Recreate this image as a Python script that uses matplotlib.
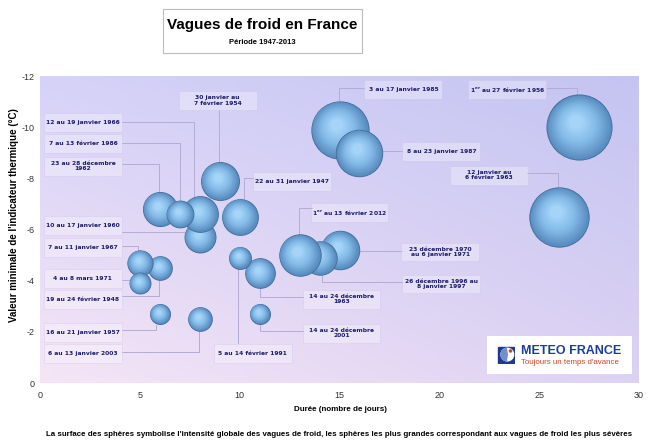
import numpy as np
import matplotlib
matplotlib.use("Agg")
import matplotlib.pyplot as plt
from matplotlib.patches import Rectangle, Circle, Wedge
from matplotlib.transforms import offset_copy
from matplotlib.colors import to_rgb

plt.rcParams["axes.unicode_minus"] = False

# Vagues de froid en France, 1947-2013
periodes = ["22 au 31 janvier 1947", "19 au 24 février 1948", "30 janvier au\n7 février 1954",
            "1$^{\\mathbf{er}}$ au 27 février 1956", "16 au 21 janvier 1957", "10 au 17 janvier 1960",
            "23 au 28 décembre\n1962", "12 janvier au\n6 février 1963", "14 au 24 décembre\n1963",
            "12 au 19 janvier 1966", "7 au 11 janvier 1967", "23 décembre 1970\nau 6 janvier 1971",
            "4 au 8 mars 1971", "3 au 17 janvier 1985", "7 au 13 février 1986",
            "8 au 23 janvier 1987", "5 au 14 février 1991", "26 décembre 1996 au\n8 janvier 1997",
            "14 au 24 décembre\n2001", "6 au 13 janvier 2003", "1$^{\\mathbf{er}}$ au 13 février 2012"]
duree = [10, 6, 9, 27, 6, 8, 6, 26, 11, 8, 5, 15, 5, 15, 7, 16, 10, 14, 11, 8, 13]
temp_min = [-6.5, -4.5, -7.9, -10.0, -2.7, -5.7, -6.8, -6.5, -4.3, -6.6, -4.7, -5.2,
            -3.9, -9.9, -6.6, -9.0, -4.9, -4.9, -2.7, -2.5, -5.0]
intensite = [32, 14, 36, 106, 10, 24, 29, 88, 22, 32, 16, 37, 11, 82, 18, 54, 12, 28, 10, 14, 43]

# label boxes (centre, data coords) and leader lines
boites = [(12.6, -7.89), (2.15, -3.28), (8.9, -11.05), (23.4, -11.48), (2.15, -1.99), (2.15, -6.17),
          (2.15, -8.48), (22.5, -8.12), (15.1, -3.28), (2.15, -10.2), (2.15, -5.31), (20.05, -5.12),
          (2.15, -4.10), (18.2, -11.48), (2.15, -9.375), (20.1, -9.06), (10.65, -1.17), (20.1, -3.87),
          (15.1, -1.95), (2.15, -1.17), (15.5, -6.68)]
traits = [
    [(10.65, -8.0), (10.2, -8.0), (10.2, -7.19)],
    [(4.1, -3.4), (5.95, -3.4), (5.95, -4.06)],
    [(8.95, -10.66), (8.95, -8.67)],
    [(25.4, -11.52), (26.9, -11.52), (26.9, -11.25)],
    [(4.1, -2.07), (5.8, -2.07), (5.8, -2.27)],
    [(4.1, -5.9), (7.2, -5.9)],
    [(4.1, -8.55), (5.95, -8.55), (5.95, -7.5)],
    [(24.4, -8.2), (25.95, -8.2), (25.95, -7.7)],
    [(13.15, -3.36), (11.0, -3.36), (11.0, -3.75)],
    [(4.1, -10.2), (7.7, -10.2), (7.7, -7.27)],
    [(4.1, -5.35), (4.9, -5.35), (4.9, -5.15)],
    [(15.95, -5.16), (18.15, -5.16)],
    [(4.1, -4.02), (4.45, -4.02)],
    [(16.25, -11.52), (14.95, -11.52), (14.95, -11.05)],
    [(4.1, -9.375), (7.0, -9.375), (7.0, -7.15)],
    [(17.1, -9.06), (18.15, -9.06)],
    [(9.9, -4.49), (9.9, -1.56)],
    [(14.1, -4.26), (14.1, -3.95), (18.15, -3.95)],
    [(13.15, -2.03), (11.0, -2.03), (11.0, -2.3)],
    [(4.1, -1.21), (7.95, -1.21), (7.95, -2.07)],
    [(13.6, -6.84), (12.95, -6.84), (12.95, -5.82)],
]

sans = ["Liberation Sans", "DejaVu Sans"]
navy = "#1c1c6a"

fig = plt.figure(figsize=(6.5, 4.44), dpi=100)
ax = fig.add_axes([40 / 650, 61 / 444, 599 / 650, 307 / 444])
ax.set_xlim(0, 30)
ax.set_ylim(0, -12)

# background gradient
bl, br = np.array(to_rgb("#f5e5f6")), np.array(to_rgb("#dcd2f3"))
tl, tr = np.array(to_rgb("#d6d2f8")), np.array(to_rgb("#c4c4f2"))
u = np.linspace(0, 1, 200)[None, :, None]
v = np.linspace(0, 1, 120)[:, None, None]
grad = (1 - v) * ((1 - u) * bl + u * br) + v * ((1 - u) * tl + u * tr)
ax.imshow(grad, extent=[0, 30, 0, -12], origin="lower", aspect="auto", zorder=0)

for s in ax.spines.values():
    s.set_visible(False)
ax.set_xticks(range(0, 31, 5))
ax.set_yticks(range(0, -13, -2))
ax.tick_params(length=0, labelsize=6.5, labelcolor="#333333")
ax.tick_params(axis="y", pad=4)
ax.tick_params(axis="x", pad=6)
for t in ax.get_xticklabels() + ax.get_yticklabels():
    t.set_family(sans)

# leader lines and label boxes
for (bx, by), pts, txt in zip(boites, traits, periodes):
    xs, ys = zip(*pts)
    ax.plot(xs, ys, color="#b4acd2", lw=0.7, zorder=1)
    ax.add_patch(Rectangle((bx - 1.95, by - 0.37), 3.9, 0.74, facecolor="white", alpha=0.3,
                           edgecolor="#c2bce0", lw=0.6, zorder=1))
    ax.text(bx, by, txt, ha="center", va="center", fontsize=4.3, fontweight="bold",
            color=navy, linespacing=1.1, zorder=2)

# spheres
edge, mid, hi = np.array(to_rgb("#5a8dc0")), np.array(to_rgb("#84bae8")), np.array(to_rgb("#aad8fb"))
n = 14
for k, (x, y, I) in enumerate(zip(duree, temp_min, intensite)):
    r = np.sqrt(I * 10)
    for i in range(n):
        f = 1 - 0.85 * i / n
        if f > 0.6:
            c = edge + (mid - edge) * (1 - f) / 0.4
        else:
            c = mid + (hi - mid) * (0.6 - f) / 0.45
        trn = offset_copy(ax.transData, fig=fig, x=-0.12 * r * (1 - f), y=0.2 * r * (1 - f), units="dots")
        ax.scatter([x], [y], s=(1.44 * r * f) ** 2, color=c, transform=trn,
                   edgecolor="#45709d" if i == 0 else "none", linewidth=0.7 if i == 0 else 0,
                   zorder=3 + k * 0.01 + i * 0.0001)

fig.text(340 / 650, 1 - 409 / 444, "Durée (nombre de jours)", ha="center", va="center",
         fontsize=5.8, fontweight="bold", family=sans)
fig.text(14 / 650, 0.515, "Valeur minimale de l'indicateur thermique (°C)", rotation=90,
         ha="center", va="center", fontsize=7, fontweight="bold", family=sans)

# title
fig.patches.append(Rectangle((163 / 650, 1 - 53 / 444), 199 / 650, 44 / 444, transform=fig.transFigure,
                             facecolor="white", edgecolor="#bbbbbb", lw=0.8))
fig.text(262 / 650, 1 - 25 / 444, "Vagues de froid en France", ha="center", va="center",
         fontsize=11, fontweight="bold", family=sans)
fig.text(262 / 650, 1 - 43 / 444, "Période 1947-2013", ha="center", va="center",
         fontsize=5.5, fontweight="bold", family=sans)

fig.text(339 / 650, 1 - 434 / 444, "La surface des sphères symbolise l'intensité globale des vagues de froid, "
         "les sphères les plus grandes correspondant aux vagues de froid les plus sévères",
         ha="center", va="center", fontsize=5.7, fontweight="bold", family=sans)

# logo
fig.patches.append(Rectangle((487 / 650, 1 - 374 / 444), 145 / 650, 38 / 444, transform=fig.transFigure,
                             facecolor="white", edgecolor="none", zorder=5))
lax = fig.add_axes([497 / 650, 1 - 364 / 444, 18 / 650, 18 / 444], zorder=6)
lax.set_xlim(-1, 1)
lax.set_ylim(-1, 1)
lax.set_aspect("equal")
lax.axis("off")
lax.add_patch(Rectangle((-0.9, -0.9), 1.8, 1.8, color="#1f3a8a"))
lax.add_patch(Circle((0.15, 0.05), 0.7, color="white"))
lax.add_patch(Wedge((0.15, 0.05), 0.7, 100, 260, color="#6f8fcf"))
lax.add_patch(Circle((0.5, 0.45), 0.12, color="#d0442a"))
fig.text(521 / 650, 1 - 351 / 444, "METEO FRANCE", ha="left", va="center", fontsize=9,
         fontweight="bold", color="#1e3c9a", family=sans, zorder=7)
fig.text(521 / 650, 1 - 362 / 444, "Toujours un temps d'avance", ha="left", va="center", fontsize=5.7,
         color="#d0442a", family=sans, zorder=7)

fig.savefig("out.png", dpi=100)
